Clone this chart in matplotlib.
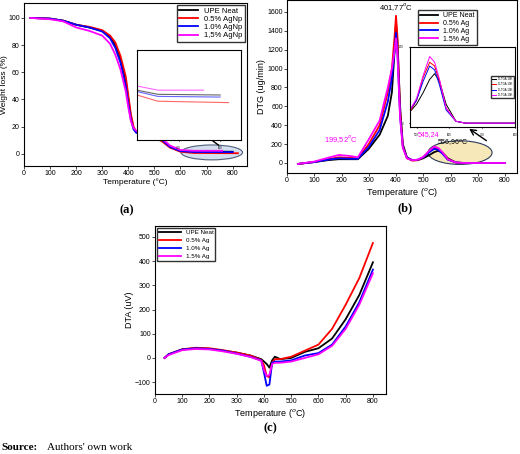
import numpy as np
import matplotlib.pyplot as plt
from matplotlib.patches import Ellipse

plt.rcParams["font.family"] = ["Liberation Sans", "DejaVu Sans"]

COLORS = ["black", "red", "blue", "magenta"]

# TGA (a)
tga_labels = ["UPE Neat", "0.5% AgNp", "1.0% AgNp", "1,5% AgNp"]
tga_t = [
    [25, 100, 150, 200, 250, 300, 330, 350, 370, 390, 400, 410, 420, 430, 450, 500, 530, 560, 600, 650, 800],
    [25, 100, 150, 200, 250, 300, 330, 350, 370, 390, 400, 410, 420, 430, 450, 500, 530, 560, 600, 650, 820],
    [25, 100, 150, 200, 250, 300, 330, 350, 370, 390, 400, 410, 420, 430, 450, 500, 530, 560, 600, 650, 800],
    [25, 100, 150, 200, 250, 300, 330, 350, 370, 390, 400, 410, 420, 430, 450, 500, 530, 560, 600, 650, 760],
]
tga_w = [
    [100, 99.5, 98, 95, 93, 90.5, 86, 80, 70, 54, 40, 27, 19, 16, 15, 12.5, 10, 5, 2.2, 1.6, 1.5],
    [100, 99.5, 98, 95, 93.5, 91, 87, 82, 72, 57, 43, 29, 20, 16, 14, 12, 9, 4.5, 1.5, 0.6, 0.4],
    [100, 99.5, 98, 95, 93, 90, 85, 78, 67, 50, 37, 25, 18, 15.5, 15, 12.5, 10, 5, 2, 1.3, 1.2],
    [100, 99, 97.5, 93, 90.5, 87, 81, 73, 62, 46, 34, 24, 19, 17, 16.5, 14, 11, 6, 2.8, 2.2, 2.2],
]

# DTG (b)
dtg_labels = ["UPE Neat", "0.5% Ag", "1.0% Ag", "1.5% Ag"]
dtg_t = [40, 100, 150, 190, 230, 260, 300, 340, 370, 385, 395, 400, 405, 415, 425, 440, 460, 480, 500, 520, 540, 555, 570, 590, 620, 650, 700, 800]
dtg_v = [
    [-10, 10, 30, 40, 40, 40, 150, 300, 500, 750, 1200, 1480, 1300, 600, 200, 60, 30, 30, 50, 80, 115, 130, 110, 50, 5, 0, 0, 0],
    [-10, 10, 40, 60, 55, 50, 200, 400, 750, 1000, 1350, 1560, 1350, 550, 180, 50, 25, 30, 60, 120, 160, 150, 110, 40, 5, 0, 0, 0],
    [-10, 10, 35, 50, 45, 45, 170, 350, 650, 900, 1200, 1380, 1200, 500, 170, 55, 30, 35, 60, 110, 150, 140, 100, 35, 5, 0, 0, 0],
    [-10, 15, 55, 85, 75, 60, 250, 450, 800, 1000, 1200, 1320, 1150, 480, 160, 50, 30, 35, 65, 125, 175, 160, 115, 40, 5, 0, 0, 0],
]

# DTA (c)
dta_labels = ["UPE Neat", "0.5% Ag", "1.0% Ag", "1.5% Ag"]
dta_t = [35, 50, 100, 150, 200, 250, 300, 350, 390, 400, 410, 420, 430, 440, 460, 500, 550, 600, 650, 700, 750, 800]
dta_v = [
    [0, 15, 35, 40, 38, 30, 22, 10, -5, -15, -25, -40, -10, 5, -5, 0, 25, 40, 80, 160, 260, 395],
    [0, 15, 36, 42, 40, 32, 22, 10, -8, -30, -75, -80, -20, -5, -5, 5, 30, 55, 120, 220, 330, 475],
    [0, 15, 35, 40, 37, 30, 18, 5, -10, -60, -115, -110, -20, -15, -15, -10, 10, 20, 55, 130, 230, 365],
    [0, 12, 32, 37, 35, 27, 17, 4, -12, -50, -75, -70, -25, -20, -20, -15, 0, 15, 50, 120, 220, 350],
]

fig = plt.figure(figsize=(5.2, 4.54), dpi=100)
W, H = 520, 454


def add_ax(x0, y0, x1, y1):
    return fig.add_axes([x0 / W, 1 - y1 / H, (x1 - x0) / W, (y1 - y0) / H])


def style(ax):
    ax.tick_params(labelsize=5, length=2, width=0.5, pad=1)
    for s in ax.spines.values():
        s.set_linewidth(0.8)


# (a)
ax = add_ax(24, 3, 247, 166)
for t, w, c, lab in zip(tga_t, tga_w, COLORS, tga_labels):
    ax.plot(t, w, color=c, lw=1.3, label=lab)
ax.set_xlim(0, 855)
ax.set_ylim(-9, 111)
ax.set_xticks(range(0, 801, 100))
ax.set_yticks(range(0, 101, 20))
ax.set_xlabel("Temperature (°C)", fontsize=6, labelpad=1)
ax.set_ylabel("Weight loss (%)", fontsize=6, labelpad=0)
style(ax)
ax.legend(loc="upper right", fontsize=5.5, frameon=True, fancybox=False, edgecolor="black",
          handlelength=2.5, borderpad=0.3, labelspacing=0.1, borderaxespad=0.3)
ax.add_patch(Ellipse((720, 1), 236, 11, facecolor="#c9d6ea", edgecolor="#2a3a5a", lw=0.8, alpha=0.8, zorder=0))
ax.annotate("", xy=(672, 17), xytext=(755, 5), arrowprops=dict(arrowstyle="->", lw=1, color="black"))
ins = add_ax(137, 50, 241, 140)
for t, w, c in zip(tga_t, tga_w, COLORS):
    ins.plot(t, w, color=c, lw=0.8, alpha=0.6)
ins.set_xlim(600, 850)
ins.set_ylim(-5, 8)
ins.tick_params(labelsize=2, length=1)
ins.set_xticks([700, 800])
ins.set_yticks([])

# (b)
ax = add_ax(287, 0, 517, 173)
for v, c, lab in zip(dtg_v, COLORS, dtg_labels):
    ax.plot(dtg_t, v, color=c, lw=1.3, label=lab)
ax.set_xlim(0, 844)
ax.set_ylim(-106, 1727)
ax.set_xticks(range(0, 801, 100))
ax.set_yticks(range(0, 1601, 200))
ax.set_xlabel("Temperature ($^o$C)", fontsize=6.5, labelpad=1)
ax.set_ylabel("DTG (ug/min)", fontsize=6.5, labelpad=1)
style(ax)
ax.legend(loc="upper right", bbox_to_anchor=(0.84, 0.96), fontsize=5, frameon=True, fancybox=False,
          edgecolor="black", handlelength=2.5, borderpad=0.3, labelspacing=0.1)
ax.text(401, 1620, "401,77$^o$C", fontsize=5.5, ha="center")
ax.text(200, 220, "199,52$^o$C", fontsize=5.5, ha="center", color="magenta")
ax.text(520, 285, "545,24", fontsize=5, ha="center", color="magenta")
ax.text(610, 195, "556,96$^o$C", fontsize=5, ha="center")
ax.add_patch(Ellipse((635, 110), 235, 250, facecolor="#f6e8b8", edgecolor="#2a3a5a", lw=0.8, zorder=0))
ax.annotate("", xy=(660, 380), xytext=(740, 220), arrowprops=dict(arrowstyle="->", lw=1, color="black"))
ins = add_ax(410, 47, 515, 127)
for v, c, lab in zip(dtg_v, COLORS, ["D-TGA 10K", "D-TGA 10K", "D-TGA 10K", "D-TGA 10K"]):
    ins.plot(dtg_t, v, color=c, lw=0.7, label=lab)
ins.set_xlim(480, 800)
ins.set_ylim(-10, 200)
ins.tick_params(labelsize=2, length=1)
ins.set_xticks([500, 600, 700, 800])
ins.set_yticks([0, 200])
ins.legend(loc="center right", fontsize=2, handlelength=1.5, fancybox=False, edgecolor="black")

# (c)
ax = add_ax(155, 226, 386, 394)
for v, c, lab in zip(dta_v, COLORS, dta_labels):
    ax.plot(dta_t, v, color=c, lw=1.3, label=lab)
ax.set_xlim(0, 848)
ax.set_ylim(-149, 545)
ax.set_xticks(range(0, 801, 100))
ax.set_yticks(range(-100, 501, 100))
ax.set_xlabel("Temperature ($^o$C)", fontsize=6.5, labelpad=1)
ax.set_ylabel("DTA (uV)", fontsize=6.5, labelpad=1)
style(ax)
ax.legend(loc="upper left", fontsize=4.5, frameon=True, fancybox=False, edgecolor="black",
          handlelength=3.5, borderpad=0.3, labelspacing=0.4, borderaxespad=0.3)

fig.text(127 / W, 1 - 210 / H, "(a)", fontsize=9, fontweight="bold", family="Liberation Serif", ha="center", va="center")
fig.text(405 / W, 1 - 208 / H, "(b)", fontsize=9, fontweight="bold", family="Liberation Serif", ha="center", va="center")
fig.text(270 / W, 1 - 428 / H, "(c)", fontsize=9, fontweight="bold", family="Liberation Serif", ha="center", va="center")
fig.text(0.002, 1 - 447 / H, "Source:", fontsize=8, fontweight="bold", family="Liberation Serif", va="center")
fig.text(47 / W, 1 - 447 / H, "Authors' own work", fontsize=8, family="Liberation Serif", va="center")

fig.savefig("out.png", dpi=100)
